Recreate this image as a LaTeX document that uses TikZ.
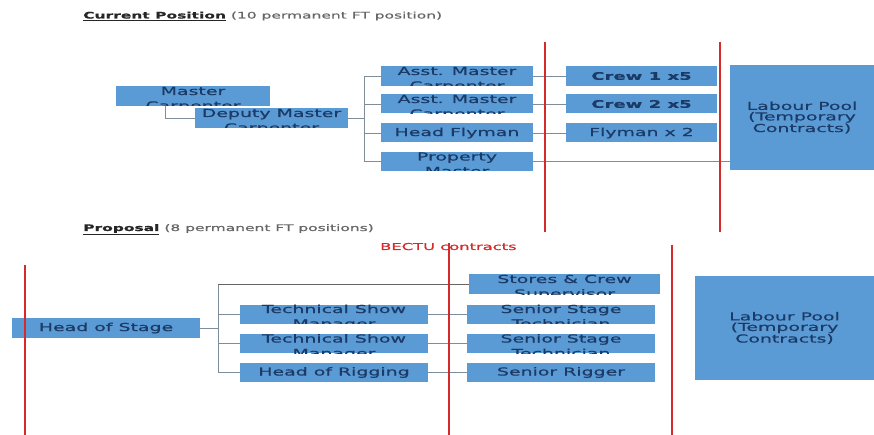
\documentclass[tikz,border=0pt]{standalone}
\usepackage{fontspec}
\usepackage{xcolor}
\newfontfamily\orgfont[FakeStretch=1.72,FakeBold=0.8]{DejaVu Sans}
\definecolor{boxblue}{HTML}{5B9BD5}
\definecolor{boxtext}{HTML}{1B3A66}
\definecolor{linkgray}{HTML}{7F8C9A}
\definecolor{redline}{HTML}{D42A2A}
\newcommand{\twolines}[2]{\smash{\begin{tabular}[t]{@{}c@{}}#1\\#2\end{tabular}}}
\tikzset{
  orgbox/.style={fill=boxblue, minimum height=19pt, inner sep=0pt, text=boxtext, font=\orgfont\fontsize{11}{14.5}\selectfont},
  cuttext/.style={path picture={\node[fill=none, draw=none, inner sep=0pt, path picture={}, text=boxtext, font=\orgfont\fontsize{11}{14.5}\selectfont, yshift=1pt] at (path picture bounding box.center) {#1};}},
  poolbox/.style={orgbox, align=center, font=\orgfont\fontsize{11}{10.5}\selectfont},
  link/.style={draw=linkgray, line width=0.8pt},
  divider/.style={draw=redline, line width=1.3pt},
  heading/.style={anchor=base west, inner sep=0pt, text=black!60, font=\orgfont\fontsize{9}{11}\selectfont}
}
\begin{document}
\begin{tikzpicture}[x=1pt, y=-1pt]
\useasboundingbox (0,0) rectangle (874,435);

\node[heading] (hd1) at (83,18.5) {{\color{black!85}\underline{\textbf{Current Position}}} (10 permanent FT position)};
\node[heading] (hd2) at (83,231) {{\color{black!85}\underline{\textbf{Proposal}}} (8 permanent FT positions)};
\node[heading, text=redline, font=\orgfont\fontsize{9.5}{11}\selectfont] (bectu) at (380,250) {BECTU contracts};

\node[orgbox, minimum width=154pt, minimum height=20pt, cuttext={\twolines{Master}{Carpenter}}] (mc) at (193,96) {};
\node[orgbox, minimum width=153pt, minimum height=20pt, cuttext={\twolines{Deputy Master}{Carpenter}}] (dmc) at (271.5,118) {};
\node[orgbox, minimum width=152pt, minimum height=20pt, cuttext={\twolines{Asst. Master}{Carpenter}}] (amc1) at (457,76) {};
\node[orgbox, minimum width=152pt, cuttext={\twolines{Asst. Master}{Carpenter}}] (amc2) at (457,104) {};
\node[orgbox, minimum width=152pt] (hf) at (457,133) {Head Flyman};
\node[orgbox, minimum width=152pt, cuttext={\twolines{Property}{Master}}] (pm) at (457,161.5) {};
\node[orgbox, minimum width=151pt, minimum height=20pt, font=\orgfont\bfseries\fontsize{10.5}{12}\selectfont] (crew1) at (641.5,76) {Crew 1 x5};
\node[orgbox, minimum width=151pt, font=\orgfont\bfseries\fontsize{10.5}{12}\selectfont] (crew2) at (641.5,104) {Crew 2 x5};
\node[orgbox, minimum width=151pt] (fly) at (641.5,133) {Flyman x 2};
\node[poolbox, minimum width=144pt, minimum height=105pt] (lp1) at (802,117.5) {Labour Pool\\(Temporary\\Contracts)};

\coordinate (ubus) at (364,118);
\draw[link] ([xshift=-28pt]mc.south) |- (dmc.west);
\draw[link] (dmc.east) -- (ubus);
\draw[link] (ubus |- amc1) -- (ubus |- pm);
\foreach \n in {amc1,amc2,hf,pm}
  \draw[link] (ubus |- \n) -- (\n.west);
\draw[link] (amc1.east) -- (crew1.west);
\draw[link] (amc2.east) -- (crew2.west);
\draw[link] (hf.east) -- (fly.west);
\draw[link] (pm.east) -- (pm.east -| lp1.west);

\node[orgbox, minimum width=188pt, minimum height=20pt] (hos) at (106,328) {Head of Stage};
\node[orgbox, minimum width=188pt, cuttext={\twolines{Technical Show}{Manager}}] (tsm1) at (334,314) {};
\node[orgbox, minimum width=188pt, cuttext={\twolines{Technical Show}{Manager}}] (tsm2) at (334,343.5) {};
\node[orgbox, minimum width=188pt] (hor) at (334,372.5) {Head of Rigging};
\node[orgbox, minimum width=191pt, minimum height=20pt, cuttext={\twolines{Stores \& Crew}{Supervisor}}] (scs) at (564.5,284) {};
\node[orgbox, minimum width=188pt, cuttext={\twolines{Senior Stage}{Technician}}] (sst1) at (561,314) {};
\node[orgbox, minimum width=188pt, cuttext={\twolines{Senior Stage}{Technician}}] (sst2) at (561,343.5) {};
\node[orgbox, minimum width=188pt] (sr) at (561,372.5) {Senior Rigger};
\node[poolbox, minimum width=179pt, minimum height=104pt] (lp2) at (784.5,328) {Labour Pool\\(Temporary\\Contracts)};

\coordinate (lbus) at (218,328);
\draw[link] (hos.east) -- (lbus);
\draw[link] (lbus |- scs) -- (lbus |- hor);
\draw[link, draw=black!60] (lbus |- scs) -- (scs.west);
\foreach \n in {tsm1,tsm2,hor}
  \draw[link] (lbus |- \n) -- (\n.west);
\draw[link] (tsm1.east) -- (sst1.west);
\draw[link] (tsm2.east) -- (sst2.west);
\draw[link] (hor.east) -- (sr.west);

\draw[divider] (545,42) -- (545,232);
\draw[divider] (720,42) -- (720,232);
\draw[divider] (25,265) -- (25,435);
\draw[divider] (449,243) -- (449,435);
\draw[divider] (672,245) -- (672,435);
\end{tikzpicture}
\end{document}
